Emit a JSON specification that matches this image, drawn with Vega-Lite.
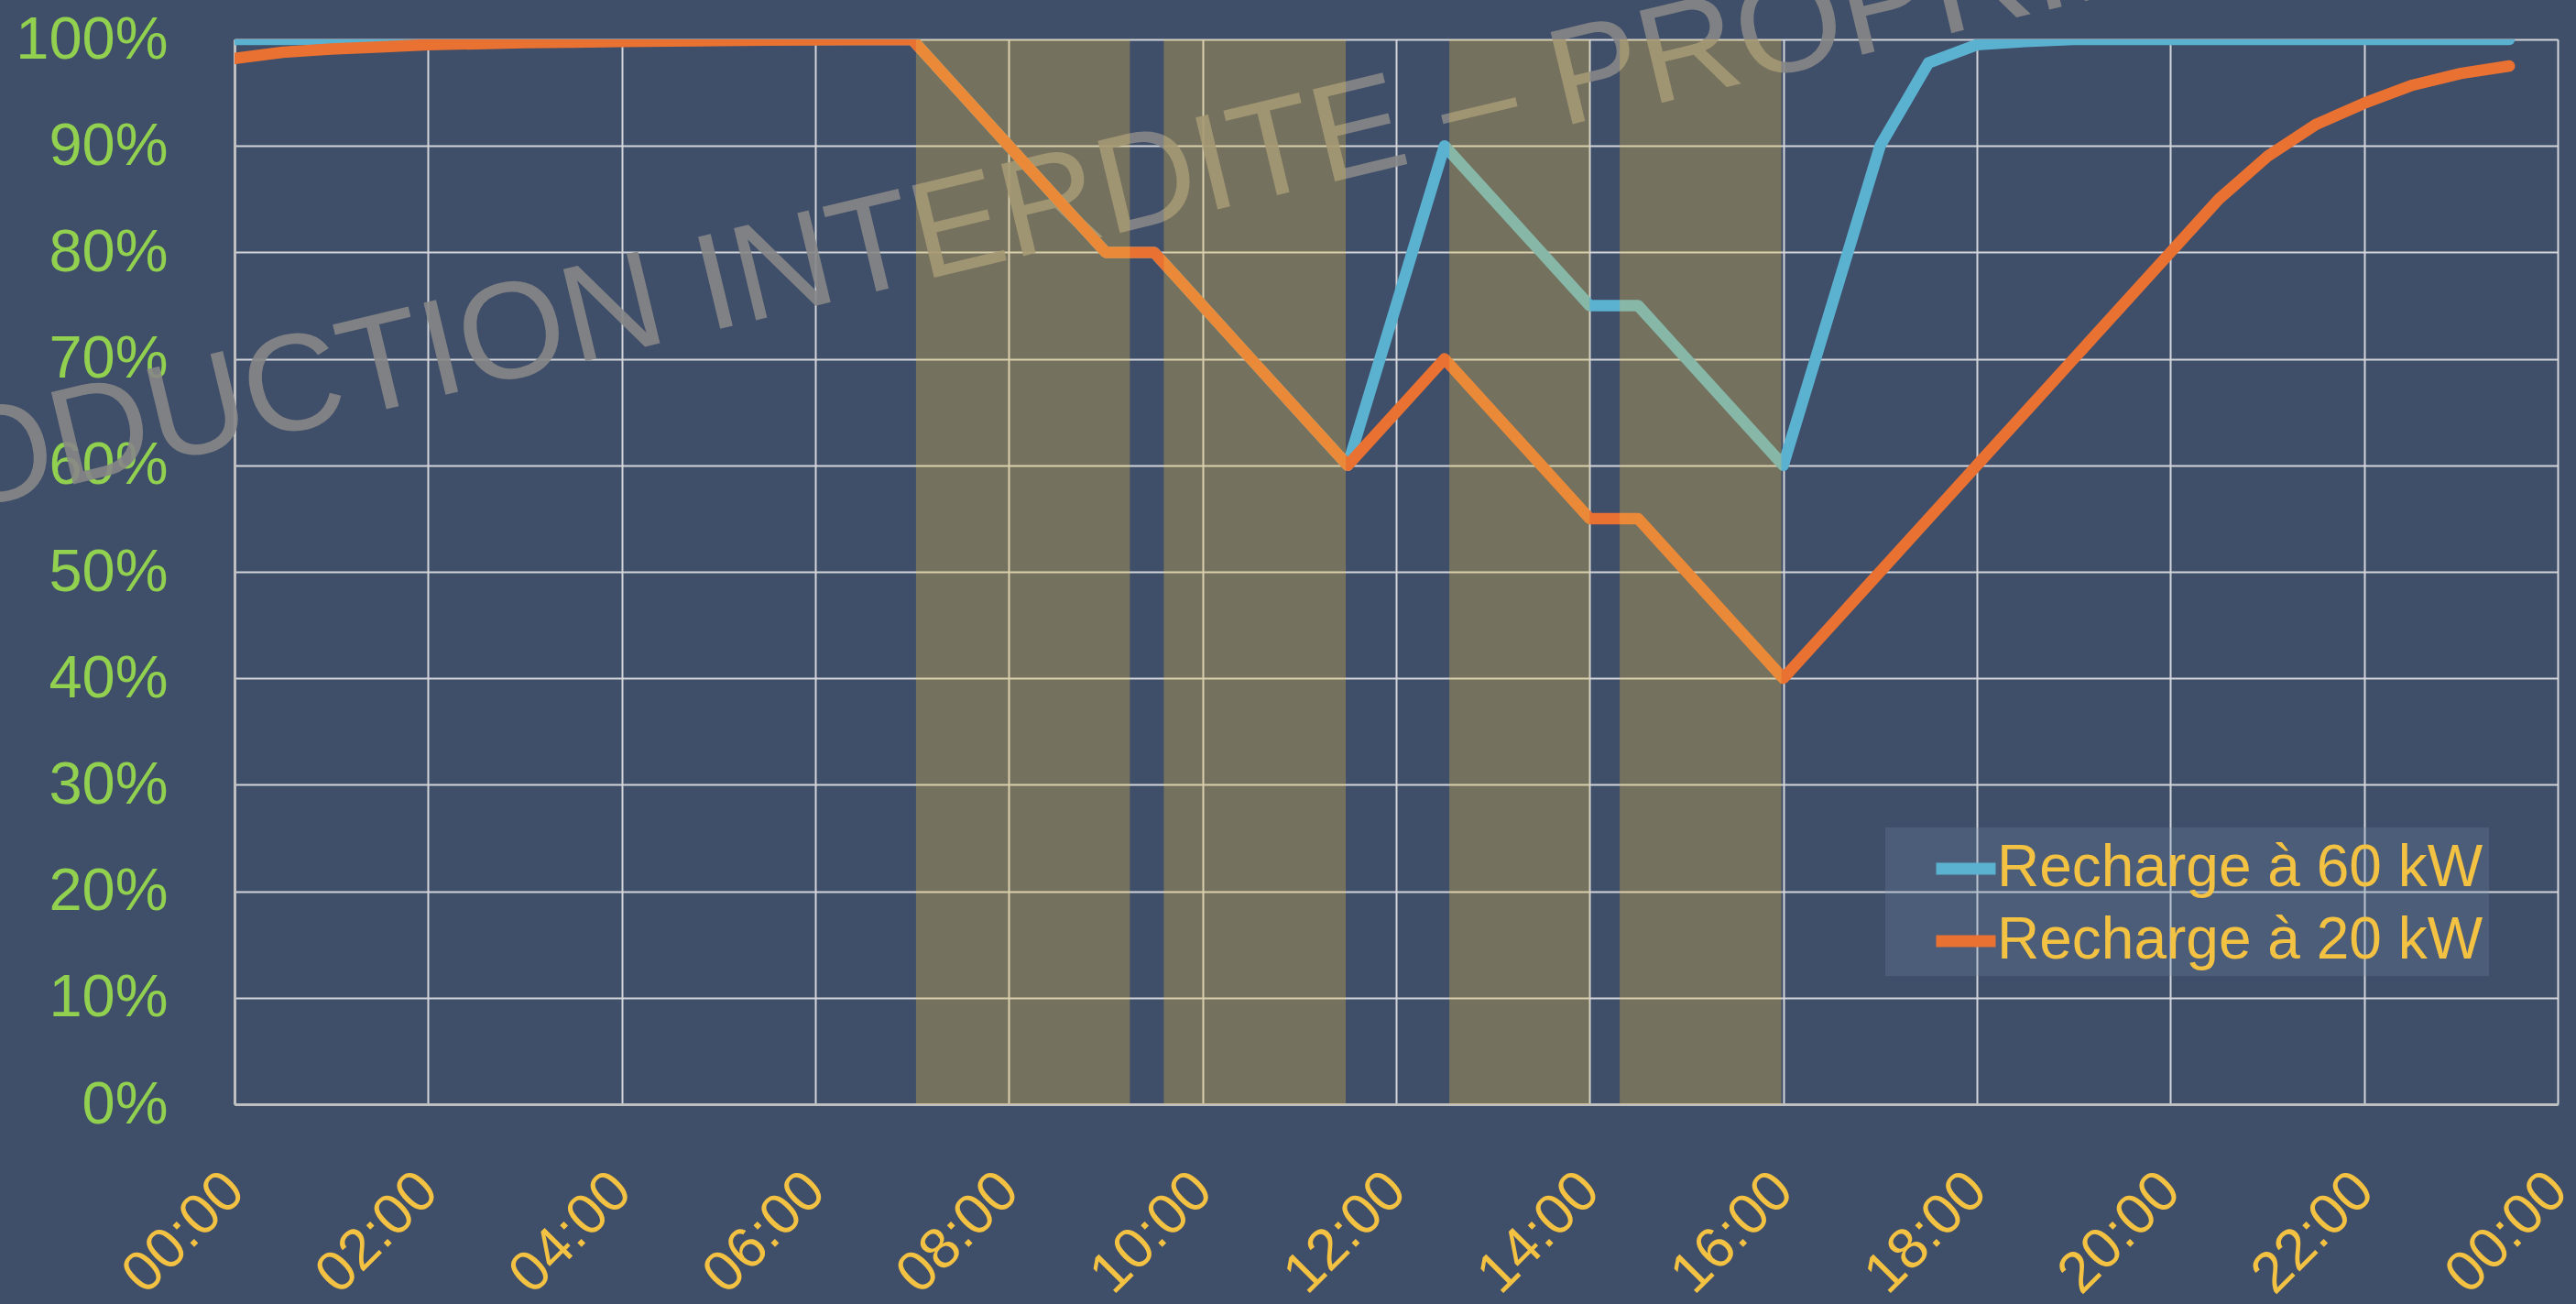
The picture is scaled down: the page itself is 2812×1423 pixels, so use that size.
{
  "$schema": "https://vega.github.io/schema/vega-lite/v6.json",
  "width": 2536,
  "height": 1162,
  "autosize": {"type": "none"},
  "padding": {"left": 256, "top": 43, "right": 20, "bottom": 218},
  "background": "#3F4E69",
  "config": {"view": {"stroke": null}},
  "datasets": {
    "filigrane": [{"texte": "REPRODUCTION INTERDITE – PROPRIÉTÉ"}],
    "soc": [
      {"h": 0, "serie": "Recharge à 60 kW", "soc": 1.0},
      {"h": 0.5, "serie": "Recharge à 60 kW", "soc": 1.0},
      {"h": 1, "serie": "Recharge à 60 kW", "soc": 1.0},
      {"h": 1.5, "serie": "Recharge à 60 kW", "soc": 1.0},
      {"h": 2, "serie": "Recharge à 60 kW", "soc": 1.0},
      {"h": 2.5, "serie": "Recharge à 60 kW", "soc": 1.0},
      {"h": 3, "serie": "Recharge à 60 kW", "soc": 1.0},
      {"h": 3.5, "serie": "Recharge à 60 kW", "soc": 1.0},
      {"h": 4, "serie": "Recharge à 60 kW", "soc": 1.0},
      {"h": 4.5, "serie": "Recharge à 60 kW", "soc": 1.0},
      {"h": 5, "serie": "Recharge à 60 kW", "soc": 1.0},
      {"h": 5.5, "serie": "Recharge à 60 kW", "soc": 1.0},
      {"h": 6, "serie": "Recharge à 60 kW", "soc": 1.0},
      {"h": 6.5, "serie": "Recharge à 60 kW", "soc": 1.0},
      {"h": 7, "serie": "Recharge à 60 kW", "soc": 1.0},
      {"h": 7.5, "serie": "Recharge à 60 kW", "soc": 0.95},
      {"h": 8, "serie": "Recharge à 60 kW", "soc": 0.90},
      {"h": 8.5, "serie": "Recharge à 60 kW", "soc": 0.85},
      {"h": 9, "serie": "Recharge à 60 kW", "soc": 0.80},
      {"h": 9.5, "serie": "Recharge à 60 kW", "soc": 0.80},
      {"h": 10, "serie": "Recharge à 60 kW", "soc": 0.75},
      {"h": 10.5, "serie": "Recharge à 60 kW", "soc": 0.70},
      {"h": 11, "serie": "Recharge à 60 kW", "soc": 0.65},
      {"h": 11.5, "serie": "Recharge à 60 kW", "soc": 0.60},
      {"h": 12, "serie": "Recharge à 60 kW", "soc": 0.75},
      {"h": 12.5, "serie": "Recharge à 60 kW", "soc": 0.90},
      {"h": 13, "serie": "Recharge à 60 kW", "soc": 0.85},
      {"h": 13.5, "serie": "Recharge à 60 kW", "soc": 0.80},
      {"h": 14, "serie": "Recharge à 60 kW", "soc": 0.75},
      {"h": 14.5, "serie": "Recharge à 60 kW", "soc": 0.75},
      {"h": 15, "serie": "Recharge à 60 kW", "soc": 0.70},
      {"h": 15.5, "serie": "Recharge à 60 kW", "soc": 0.65},
      {"h": 16, "serie": "Recharge à 60 kW", "soc": 0.60},
      {"h": 16.5, "serie": "Recharge à 60 kW", "soc": 0.75},
      {"h": 17, "serie": "Recharge à 60 kW", "soc": 0.90},
      {"h": 17.5, "serie": "Recharge à 60 kW", "soc": 0.978},
      {"h": 18, "serie": "Recharge à 60 kW", "soc": 0.995},
      {"h": 18.5, "serie": "Recharge à 60 kW", "soc": 0.998},
      {"h": 19, "serie": "Recharge à 60 kW", "soc": 1.0},
      {"h": 19.5, "serie": "Recharge à 60 kW", "soc": 1.0},
      {"h": 20, "serie": "Recharge à 60 kW", "soc": 1.0},
      {"h": 20.5, "serie": "Recharge à 60 kW", "soc": 1.0},
      {"h": 21, "serie": "Recharge à 60 kW", "soc": 1.0},
      {"h": 21.5, "serie": "Recharge à 60 kW", "soc": 1.0},
      {"h": 22, "serie": "Recharge à 60 kW", "soc": 1.0},
      {"h": 22.5, "serie": "Recharge à 60 kW", "soc": 1.0},
      {"h": 23, "serie": "Recharge à 60 kW", "soc": 1.0},
      {"h": 23.5, "serie": "Recharge à 60 kW", "soc": 1.0},
      {"h": 0, "serie": "Recharge à 20 kW", "soc": 0.982},
      {"h": 0.5, "serie": "Recharge à 20 kW", "soc": 0.988},
      {"h": 1, "serie": "Recharge à 20 kW", "soc": 0.991},
      {"h": 1.5, "serie": "Recharge à 20 kW", "soc": 0.993},
      {"h": 2, "serie": "Recharge à 20 kW", "soc": 0.995},
      {"h": 2.5, "serie": "Recharge à 20 kW", "soc": 0.996},
      {"h": 3, "serie": "Recharge à 20 kW", "soc": 0.997},
      {"h": 3.5, "serie": "Recharge à 20 kW", "soc": 0.9975},
      {"h": 4, "serie": "Recharge à 20 kW", "soc": 0.998},
      {"h": 4.5, "serie": "Recharge à 20 kW", "soc": 0.9985},
      {"h": 5, "serie": "Recharge à 20 kW", "soc": 0.999},
      {"h": 5.5, "serie": "Recharge à 20 kW", "soc": 0.9993},
      {"h": 6, "serie": "Recharge à 20 kW", "soc": 0.9995},
      {"h": 6.5, "serie": "Recharge à 20 kW", "soc": 0.9998},
      {"h": 7, "serie": "Recharge à 20 kW", "soc": 1.0},
      {"h": 7.5, "serie": "Recharge à 20 kW", "soc": 0.95},
      {"h": 8, "serie": "Recharge à 20 kW", "soc": 0.90},
      {"h": 8.5, "serie": "Recharge à 20 kW", "soc": 0.85},
      {"h": 9, "serie": "Recharge à 20 kW", "soc": 0.80},
      {"h": 9.5, "serie": "Recharge à 20 kW", "soc": 0.80},
      {"h": 10, "serie": "Recharge à 20 kW", "soc": 0.75},
      {"h": 10.5, "serie": "Recharge à 20 kW", "soc": 0.70},
      {"h": 11, "serie": "Recharge à 20 kW", "soc": 0.65},
      {"h": 11.5, "serie": "Recharge à 20 kW", "soc": 0.60},
      {"h": 12, "serie": "Recharge à 20 kW", "soc": 0.65},
      {"h": 12.5, "serie": "Recharge à 20 kW", "soc": 0.70},
      {"h": 13, "serie": "Recharge à 20 kW", "soc": 0.65},
      {"h": 13.5, "serie": "Recharge à 20 kW", "soc": 0.60},
      {"h": 14, "serie": "Recharge à 20 kW", "soc": 0.55},
      {"h": 14.5, "serie": "Recharge à 20 kW", "soc": 0.55},
      {"h": 15, "serie": "Recharge à 20 kW", "soc": 0.50},
      {"h": 15.5, "serie": "Recharge à 20 kW", "soc": 0.45},
      {"h": 16, "serie": "Recharge à 20 kW", "soc": 0.40},
      {"h": 16.5, "serie": "Recharge à 20 kW", "soc": 0.45},
      {"h": 17, "serie": "Recharge à 20 kW", "soc": 0.50},
      {"h": 17.5, "serie": "Recharge à 20 kW", "soc": 0.55},
      {"h": 18, "serie": "Recharge à 20 kW", "soc": 0.60},
      {"h": 18.5, "serie": "Recharge à 20 kW", "soc": 0.65},
      {"h": 19, "serie": "Recharge à 20 kW", "soc": 0.70},
      {"h": 19.5, "serie": "Recharge à 20 kW", "soc": 0.75},
      {"h": 20, "serie": "Recharge à 20 kW", "soc": 0.80},
      {"h": 20.5, "serie": "Recharge à 20 kW", "soc": 0.85},
      {"h": 21, "serie": "Recharge à 20 kW", "soc": 0.89},
      {"h": 21.5, "serie": "Recharge à 20 kW", "soc": 0.92},
      {"h": 22, "serie": "Recharge à 20 kW", "soc": 0.94},
      {"h": 22.5, "serie": "Recharge à 20 kW", "soc": 0.957},
      {"h": 23, "serie": "Recharge à 20 kW", "soc": 0.968},
      {"h": 23.5, "serie": "Recharge à 20 kW", "soc": 0.975}
    ],
    "bandes": [
      {"debut": 7.04, "fin": 9.25},
      {"debut": 9.6, "fin": 11.48},
      {"debut": 12.55, "fin": 14.0},
      {"debut": 14.31, "fin": 15.98}
    ]
  },
  "layer": [
    {
      "data": {"name": "filigrane"},
      "mark": {"type": "text", "angle": -13.5, "font": "Liberation Sans", "fontSize": 150, "fill": "#878787", "opacity": 0.9, "align": "center", "baseline": "middle"},
      "encoding": {
        "text": {"field": "texte"},
        "x": {"datum": 7.4, "type": "quantitative"},
        "y": {"datum": 0.82, "type": "quantitative"}
      }
    },
    {
      "data": {"name": "soc"},
      "mark": {"type": "line", "strokeWidth": 12.5, "strokeCap": "round", "strokeJoin": "round", "clip": true},
      "encoding": {
        "x": {
          "field": "h", "type": "quantitative",
          "scale": {"domain": [0, 24], "nice": false, "zero": false},
          "axis": {
            "title": null,
            "values": [0, 2, 4, 6, 8, 10, 12, 14, 16, 18, 20, 22, 24],
            "labelExpr": "(datum.value % 24 < 10 ? '0' : '') + (datum.value % 24) + ':00'",
            "labelAngle": -45, "labelAlign": "right", "labelBaseline": "middle",
            "labelFont": "Liberation Sans", "labelFontSize": 63, "labelColor": "#F4C243",
            "labelPadding": 84, "labelFlush": false, "labelOverlap": false,
            "ticks": false,
            "domainColor": "#BFBFBF", "domainWidth": 3,
            "grid": true, "gridColor": "#D3D5DA", "gridWidth": 2
          }
        },
        "y": {
          "field": "soc", "type": "quantitative",
          "scale": {"domain": [0, 1], "nice": false},
          "axis": {
            "title": null,
            "values": [0, 0.1, 0.2, 0.3, 0.4, 0.5, 0.6, 0.7, 0.8, 0.9, 1],
            "format": ".0%",
            "labelFont": "Liberation Sans", "labelFontSize": 65, "labelColor": "#92D050",
            "labelPadding": 73, "labelOverlap": false, "labelFlush": false,
            "ticks": false,
            "domainColor": "#BFBFBF", "domainWidth": 3,
            "grid": true, "gridColor": "#D3D5DA", "gridWidth": 2
          }
        },
        "color": {
          "field": "serie", "type": "nominal",
          "scale": {"domain": ["Recharge à 60 kW", "Recharge à 20 kW"], "range": ["#5BB2D0", "#E97132"]},
          "legend": {
            "title": null, "orient": "none", "legendX": 1802, "legendY": 860,
            "fillColor": "rgba(110,140,170,0.25)", "padding": 6,
            "symbolType": "stroke", "symbolSize": 4225, "symbolStrokeWidth": 13, "symbolOffset": 43,
            "labelFont": "Liberation Sans", "labelFontSize": 64, "labelColor": "#F4C243",
            "labelOffset": -5, "rowPadding": 8, "labelLimit": 0
          }
        }
      }
    },
    {
      "data": {"name": "bandes"},
      "mark": {"type": "rect", "fill": "#F0C44A", "opacity": 0.3},
      "encoding": {
        "x": {"field": "debut", "type": "quantitative"},
        "x2": {"field": "fin"}
      }
    }
  ]
}
